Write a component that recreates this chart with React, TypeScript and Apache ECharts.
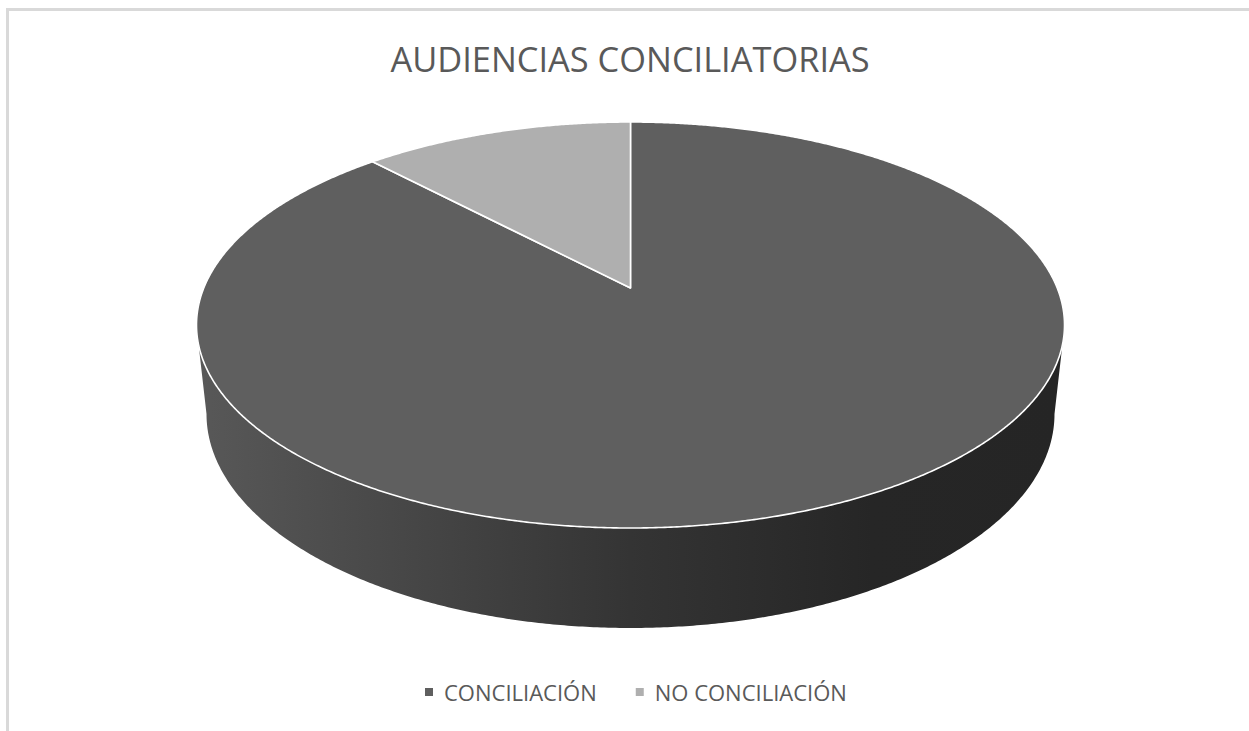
import React, { useEffect, useRef } from "react";
import * as echarts from "echarts";

const titleText = "AUDIENCIAS CONCILIATORIAS";
const categories = ["CONCILIACIÓN", "NO CONCILIACIÓN"];
const values = [88, 12];
const colors = ["#5f5f5f", "#afafaf"];

const FONT = "'Open Sans', 'Noto Sans', sans-serif";

// perspective projection of the unit disc onto the pie's top face
const CX = 630.5;
const APEX_Y = 288;
const TOP_Y = 122;
const BOT_Y = 528;
const HALF_W = 434;
const k = (BOT_Y - APEX_Y - (APEX_Y - TOP_Y)) / (BOT_Y - TOP_Y);
const B = (APEX_Y - TOP_Y) * (1 + k);
const A = HALF_W * Math.sqrt(1 - k * k);

function project(u: number, v: number): number[] {
  const w = 1 + k * v;
  return [CX + (A * u) / w, APEX_Y - (B * v) / w];
}

function wedge(start: number, end: number): number[][] {
  const pts: number[][] = [project(0, 0)];
  const n = Math.max(4, Math.ceil((end - start) * 3));
  for (let i = 0; i <= n; i++) {
    const a = ((start + ((end - start) * i) / n) * Math.PI) / 180;
    pts.push(project(Math.sin(a), Math.cos(a)));
  }
  return pts;
}

function sidePoints(): number[][] {
  const pts: number[][] = [];
  const topCy = (TOP_Y + BOT_Y) / 2;
  const topRy = (BOT_Y - TOP_Y) / 2;
  const y0 = 345;
  const xAt = Math.sqrt(1 - ((y0 - topCy) / topRy) ** 2) * HALF_W;
  pts.push([CX - xAt, y0]);
  const cy = 414;
  const rx = 424;
  const ry = 214;
  for (let i = 0; i <= 360; i++) {
    const a = Math.PI - (Math.PI * i) / 360;
    pts.push([CX + rx * Math.cos(a), cy + ry * Math.sin(a)]);
  }
  pts.push([CX + xAt, y0]);
  return pts;
}

function cumulative(): number[][] {
  const total = values.reduce((s, v) => s + v, 0);
  let acc = 0;
  return values.map((v) => {
    const s = (acc / total) * 360;
    acc += v;
    return [s, (acc / total) * 360];
  });
}

export default function App() {
  const ref = useRef<HTMLDivElement>(null);

  useEffect(() => {
    document.body.style.margin = "0";
    document.body.style.background = "#fff";
    const chart = echarts.init(ref.current!, null, { renderer: "svg" });
    const spans = cumulative();
    const sideFill = new echarts.graphic.LinearGradient(0, 0, 1, 0, [
      { offset: 0, color: "#585858" },
      { offset: 0.25, color: "#464646" },
      { offset: 0.5, color: "#343434" },
      { offset: 0.78, color: "#262626" },
      { offset: 1, color: "#252525" },
    ]);

    const series = categories.map((name, idx) => ({
      type: "custom",
      name,
      coordinateSystem: "none",
      silent: true,
      z: idx + 2,
      itemStyle: { color: colors[idx] },
      data: [spans[idx]],
      renderItem: (_p: any, api: any) => {
        const top = {
          type: "polygon",
          shape: { points: wedge(api.value(0), api.value(1)) },
          style: {
            fill: colors[idx],
            stroke: "#ffffff",
            lineWidth: 1.6,
            lineJoin: "round",
          },
        };
        if (idx !== 0) return top;
        return {
          type: "group",
          children: [
            { type: "polygon", shape: { points: sidePoints() }, style: { fill: sideFill } },
            top,
          ],
        };
      },
    }));

    chart.setOption({
      animation: false,
      backgroundColor: "#ffffff",
      title: {
        text: titleText,
        left: 625,
        top: 36,
        textAlign: "center",
        textStyle: { fontFamily: FONT, fontSize: 34.4, fontWeight: "normal", color: "#595959" },
      },
      legend: {
        data: categories,
        left: 420,
        top: 676,
        icon: "rect",
        itemWidth: 8,
        itemHeight: 8,
        itemGap: 39,
        selectedMode: false,
        textStyle: { fontFamily: FONT, fontSize: 22, color: "#595959", padding: [0, 0, 0, 6] },
      },
      graphic: [
        { type: "line", shape: { x1: 6, y1: 9.5, x2: 1249, y2: 9.5 }, style: { stroke: "#d9d9d9", lineWidth: 3 } },
        { type: "line", shape: { x1: 7.5, y1: 8, x2: 7.5, y2: 731 }, style: { stroke: "#d9d9d9", lineWidth: 3 } },
      ],
      series,
    } as any);
    return () => chart.dispose();
  }, []);

  return <div ref={ref} style={{ width: 1249, height: 731, overflow: "hidden" }} />;
}
